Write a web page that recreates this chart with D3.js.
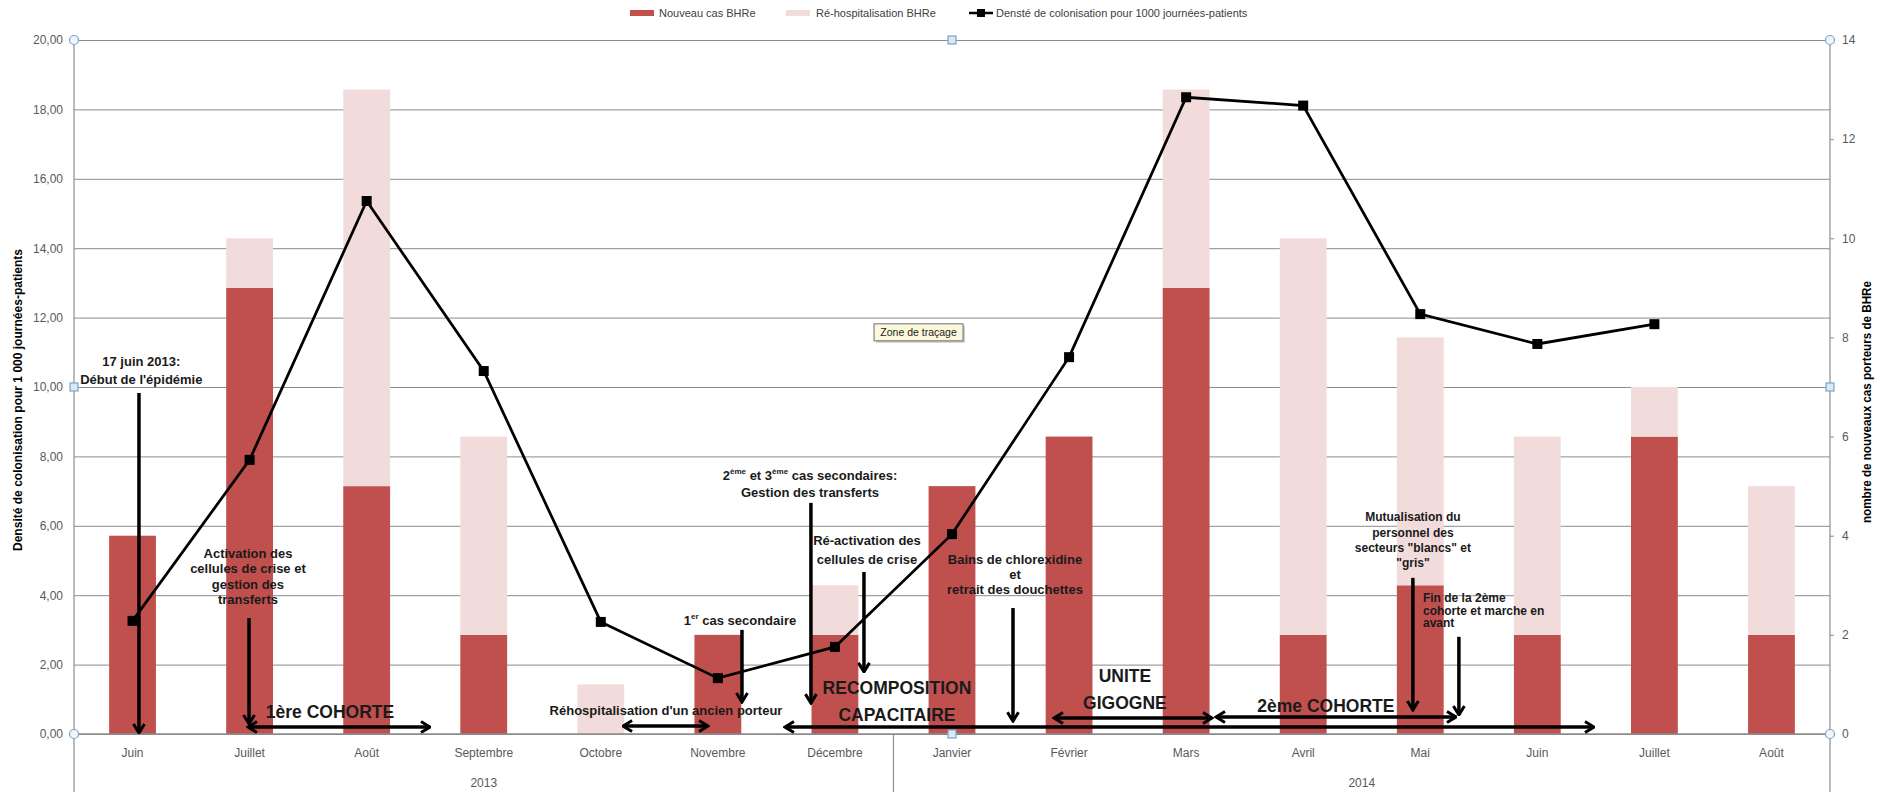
<!DOCTYPE html>
<html>
<head>
<meta charset="utf-8">
<script src="https://cdnjs.cloudflare.com/ajax/libs/d3/7.8.5/d3.min.js"></script>
<style>
body { margin: 0; background: #fff; }
svg text { font-family: "Liberation Sans", Arial, sans-serif; }
</style>
</head>
<body>
<div id="chart"></div>
<script>
// data
var months = ["Juin", "Juillet", "Août", "Septembre", "Octobre", "Novembre", "Décembre",
  "Janvier", "Février", "Mars", "Avril", "Mai", "Juin", "Juillet", "Août"];
var years = ["2013", "2014"];
var monthsPerYear = [7, 8];
var nouveauxCas = [4, 9, 5, 2, 0, 2, 2, 5, 6, 9, 2, 3, 2, 6, 2];
var rehospitalisations = [0, 1, 8, 4, 1, 0, 1, 0, 0, 4, 8, 5, 4, 1, 3];
var densite = [3.26, 7.90, 15.36, 10.46, 3.23, 1.61, 2.51, 5.76, 10.86, 18.35, 18.11, 12.10, 11.24, 11.81, null];
var leftTicks = [0, 2, 4, 6, 8, 10, 12, 14, 16, 18, 20];
var rightTicks = [0, 2, 4, 6, 8, 10, 12, 14];
var legendLabels = ["Nouveau cas BHRe", "Ré-hospitalisation BHRe", "Densté de colonisation pour 1000 journées-patients"];

var width = 1895;
var height = 792;
var plotLeft = 74, plotRight = 1830, plotTop = 40, plotBottom = 734;

var red = "#c0504d";
var pink = "#f2dcdb";
var gridGray = "#8c8c8c";
var labelGray = "#595959";

var svg = d3.select("#chart").
append("svg").
attr("width", width).
attr("height", height);

var x = d3.scaleBand().
domain(d3.range(months.length)).
range([plotLeft, plotRight]).
paddingInner(0.6).
paddingOuter(0.3);

// month index -> x of the month centre, fractional indexes for the annotations
var xPos = d3.scaleLinear().domain([-0.5, months.length - 0.5]).range([plotLeft, plotRight]);
var yLeft = d3.scaleLinear().domain([0, 20]).range([plotBottom, plotTop]);
var yRight = d3.scaleLinear().domain([0, 14]).range([plotBottom, plotTop]);

// gridlines
svg.append("g").
attr("transform", "translate(" + plotLeft + ",0)").
call(d3.axisLeft(yLeft).tickValues(leftTicks).tickSize(-(plotRight - plotLeft)).tickFormat("")).
call(function (g) {g.select(".domain").remove();}).
selectAll("line").
attr("stroke", gridGray).
attr("stroke-width", 1);

// stacked bars on the right axis
var table = months.map(function (m, i) {
  return { i: i, nouveau: nouveauxCas[i], rehosp: rehospitalisations[i] };
});
var series = d3.stack().keys(["nouveau", "rehosp"])(table);
var barColors = { nouveau: red, rehosp: pink };

svg.selectAll(".serie").
data(series).
enter().
append("g").
attr("class", "serie").
attr("fill", function (d) {return barColors[d.key];}).
selectAll("rect").
data(function (d) {return d;}).
enter().
append("rect").
attr("x", function (d) {return x(d.data.i);}).
attr("width", x.bandwidth()).
attr("y", function (d) {return yRight(d[1]);}).
attr("height", function (d) {return yRight(d[0]) - yRight(d[1]);});

// axis lines
svg.append("line").
attr("x1", plotLeft).attr("x2", plotRight).
attr("y1", plotBottom).attr("y2", plotBottom).
attr("stroke", gridGray).attr("stroke-width", 1.5);

[plotLeft, plotRight].forEach(function (px) {
  svg.append("line").
  attr("x1", px).attr("x2", px).
  attr("y1", plotTop).attr("y2", height).
  attr("stroke", gridGray).attr("stroke-width", 1.2);
});

// left axis labels
svg.append("g").
attr("transform", "translate(" + plotLeft + ",0)").
call(d3.axisLeft(yLeft).tickValues(leftTicks).tickSize(0).tickPadding(11).
tickFormat(function (d) {return d.toFixed(2).replace(".", ",");})).
call(function (g) {g.select(".domain").remove();}).
selectAll("text").
attr("fill", labelGray).
attr("font-size", 12).
attr("font-family", "\"Liberation Sans\", Arial, sans-serif");

// right axis
svg.append("g").
attr("transform", "translate(" + plotRight + ",0)").
call(d3.axisRight(yRight).tickValues(rightTicks).tickSize(4).tickPadding(8)).
call(function (g) {g.select(".domain").remove();}).
call(function (g) {g.selectAll("line").attr("stroke", gridGray);}).
selectAll("text").
attr("fill", labelGray).
attr("font-size", 12).
attr("font-family", "\"Liberation Sans\", Arial, sans-serif");

// month labels
svg.append("g").
attr("transform", "translate(0," + plotBottom + ")").
call(d3.axisBottom(x).tickSize(0).tickPadding(14).tickFormat(function (i) {return months[i];})).
call(function (g) {g.select(".domain").remove();}).
selectAll("text").
attr("fill", labelGray).
attr("font-size", 12).
attr("font-family", "\"Liberation Sans\", Arial, sans-serif");

// year labels and separators
var firstMonth = 0;
years.forEach(function (yr, k) {
  var last = firstMonth + monthsPerYear[k] - 1;
  svg.append("text").
  attr("x", (xPos(firstMonth) + xPos(last)) / 2).
  attr("y", 787).
  attr("text-anchor", "middle").
  attr("fill", labelGray).
  attr("font-size", 12).
  text(yr);
  if (k > 0) {
    svg.append("line").
    attr("x1", xPos(firstMonth - 0.5)).attr("x2", xPos(firstMonth - 0.5)).
    attr("y1", plotBottom).attr("y2", height).
    attr("stroke", gridGray).attr("stroke-width", 1.2);
  }
  firstMonth = last + 1;
});

// density line
var points = densite.map(function (d, i) {return { i: i, v: d };});
var line = d3.line().
defined(function (d) {return d.v != null;}).
x(function (d) {return xPos(d.i);}).
y(function (d) {return yLeft(d.v);});

svg.append("path").
datum(points).
attr("fill", "none").
attr("stroke", "#000").
attr("stroke-width", 2.75).
attr("d", line);

svg.selectAll(".dot").
data(points.filter(function (d) {return d.v != null;})).
enter().
append("rect").
attr("class", "dot").
attr("x", function (d) {return xPos(d.i) - 5;}).
attr("y", function (d) {return yLeft(d.v) - 5;}).
attr("width", 10).
attr("height", 10).
attr("fill", "#000");

// arrow heads
var defs = svg.append("defs");
defs.append("marker").
attr("id", "head").
attr("viewBox", "0 0 12 14").
attr("refX", 10.5).
attr("refY", 7).
attr("markerWidth", 12).
attr("markerHeight", 14).
attr("markerUnits", "userSpaceOnUse").
attr("orient", "auto-start-reverse").
append("path").
attr("d", "M1.5,1.5 L10.5,7 L1.5,12.5").
attr("fill", "none").
attr("stroke", "#000").
attr("stroke-width", 3);

// annotations, placed in month index / left axis units
var arrows = [
{ from: [0.055, 9.83], to: [0.055, 0.03] },
{ from: [0.995, 3.34], to: [0.995, 0.29] },
{ from: [0.986, 0.20], to: [2.541, 0.20], both: true },
{ from: [4.190, 0.23], to: [4.916, 0.23], both: true },
{ from: [5.206, 3.0], to: [5.206, 0.92] },
{ from: [5.795, 6.66], to: [5.795, 0.89] },
{ from: [6.248, 4.67], to: [6.248, 1.79] },
{ from: [5.573, 0.20], to: [12.484, 0.20], both: true },
{ from: [7.521, 3.63], to: [7.521, 0.37] },
{ from: [7.871, 0.46], to: [9.221, 0.46], both: true },
{ from: [9.255, 0.49], to: [11.305, 0.49], both: true },
{ from: [10.937, 4.50], to: [10.937, 0.69] },
{ from: [11.330, 2.80], to: [11.330, 0.55] }];


arrows.forEach(function (a) {
  svg.append("line").
  attr("x1", xPos(a.from[0])).attr("y1", yLeft(a.from[1])).
  attr("x2", xPos(a.to[0])).attr("y2", yLeft(a.to[1])).
  attr("stroke", "#000").
  attr("stroke-width", 3.5).
  attr("marker-end", "url(#head)").
  attr("marker-start", a.both ? "url(#head)" : null);
});

var notes = [
{ lines: ["17 juin 2013:", "Début de l'épidémie"], at: [0.075, 10.75], lh: 18, size: 13 },
{ lines: ["Activation des", "cellules de crise et", "gestion des", "transferts"], at: [0.986, 5.22], lh: 15.5, size: 13 },
{ lines: ["1ère COHORTE"], at: [1.687, 0.63], size: 17.5 },
{ lines: ["Réhospitalisation d'un ancien porteur"], at: [4.557, 0.69], size: 13 },
{ lines: ["1^er^ cas secondaire"], at: [5.189, 3.29], size: 13 },
{ lines: ["2^ème^ et 3^ème^ cas secondaires:", "Gestion des transferts"], at: [5.787, 7.46], lh: 17, size: 13 },
{ lines: ["Ré-activation des", "cellules de crise"], at: [6.274, 5.59], lh: 19, size: 13 },
{ lines: ["RECOMPOSITION", "CAPACITAIRE"], at: [6.530, 1.33], lh: 27, size: 17.5 },
{ lines: ["Bains de chlorexidine", "et", "retrait des douchettes"], at: [7.538, 5.04], lh: 15, size: 13 },
{ lines: ["UNITE", "GIGOGNE"], at: [8.477, 1.67], lh: 27, size: 17.5 },
{ lines: ["2ème COHORTE"], at: [10.194, 0.81], size: 17.5 },
{ lines: ["Mutualisation du", "personnel des", "secteurs \"blancs\" et", "\"gris\""], at: [10.937, 6.25], lh: 15.3, size: 12 },
{ lines: ["Fin de la 2ème", "cohorte et marche en", "avant"], at: [11.023, 3.92], lh: 12.5, size: 12, anchor: "start" }];


notes.forEach(function (n) {
  n.lines.forEach(function (ln, j) {
    var t = svg.append("text").
    attr("x", xPos(n.at[0])).
    attr("y", yLeft(n.at[1]) + j * (n.lh || 0)).
    attr("dy", "0.36em").
    attr("text-anchor", n.anchor || "middle").
    attr("font-size", n.size).
    attr("font-weight", "bold").
    attr("fill", "#1a1a1a");
    // parts between ^ are superscripts
    ln.split("^").forEach(function (part, k) {
      if (!part) return;
      var sp = t.append("tspan").text(part);
      if (k % 2 === 1) {
        sp.attr("font-size", n.size * 0.62).attr("dy", -n.size * 0.42);
      } else if (k > 0) {
        sp.attr("dy", n.size * 0.42);
      }
    });
  });
});

// "Zone de traçage" tooltip left in the picture
var tip = svg.append("g").attr("transform", "translate(" + xPos(6.334) + "," + yLeft(11.82) + ")");
tip.append("rect").
attr("x", 2).attr("y", 2).
attr("width", 89).attr("height", 17).
attr("fill", "#cfcfcf");
tip.append("rect").
attr("width", 89).attr("height", 17).
attr("fill", "#fbf8dc").
attr("stroke", "#6b6b6b").
attr("stroke-width", 1);
tip.append("text").
attr("x", 44.5).attr("y", 12.5).
attr("text-anchor", "middle").
attr("font-size", 10.5).
attr("fill", "#222").
text("Zone de traçage");

// selection handles of the plot area
var midX = (plotLeft + plotRight) / 2;
var midY = (plotTop + plotBottom) / 2;
[[plotLeft, plotTop], [plotRight, plotTop], [plotLeft, plotBottom], [plotRight, plotBottom]].forEach(function (c) {
  svg.append("circle").
  attr("cx", c[0]).attr("cy", c[1]).attr("r", 4.5).
  attr("fill", "#eef5fb").attr("stroke", "#7fa3c2").attr("stroke-width", 1.2);
});
[[midX, plotTop], [midX, plotBottom], [plotLeft, midY], [plotRight, midY]].forEach(function (c) {
  svg.append("rect").
  attr("x", c[0] - 4).attr("y", c[1] - 4).attr("width", 8).attr("height", 8).
  attr("fill", "#dbe9f6").attr("stroke", "#7fa3c2").attr("stroke-width", 1.2);
});

// axis titles
svg.append("text").
attr("transform", "translate(22," + 400 + ") rotate(-90)").
attr("text-anchor", "middle").
attr("font-size", 12).
attr("font-weight", "bold").
attr("textLength", 302).
attr("lengthAdjust", "spacingAndGlyphs").
text("Densité de colonisation  pour 1 000 journées-patients");

svg.append("text").
attr("transform", "translate(1871," + 402 + ") rotate(-90)").
attr("text-anchor", "middle").
attr("font-size", 12).
attr("font-weight", "bold").
attr("textLength", 242).
attr("lengthAdjust", "spacingAndGlyphs").
text("nombre de nouveaux cas  porteurs de BHRe");

// legend
var legend = svg.append("g").attr("font-size", 11).attr("fill", "#404040");
legend.append("rect").attr("x", 630).attr("y", 10).attr("width", 24).attr("height", 6).attr("fill", red);
legend.append("text").attr("x", 659).attr("y", 17).text(legendLabels[0]);
legend.append("rect").attr("x", 786).attr("y", 10).attr("width", 24).attr("height", 6).attr("fill", pink);
legend.append("text").attr("x", 816).attr("y", 17).text(legendLabels[1]);
legend.append("line").attr("x1", 969).attr("x2", 993).attr("y1", 13).attr("y2", 13).attr("stroke", "#000").attr("stroke-width", 2.5);
legend.append("rect").attr("x", 977).attr("y", 9).attr("width", 8).attr("height", 8).attr("fill", "#000");
legend.append("text").attr("x", 996).attr("y", 17).text(legendLabels[2]);
</script>
</body>
</html>
